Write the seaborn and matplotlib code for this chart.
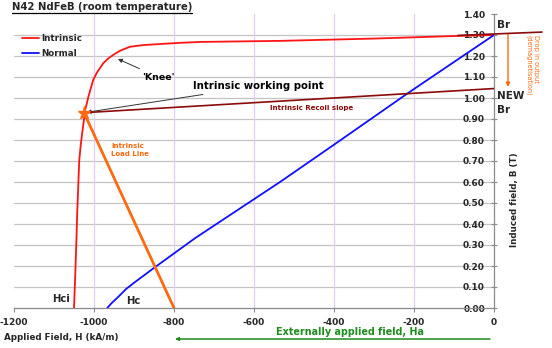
import matplotlib
matplotlib.use("Agg")
import matplotlib.pyplot as plt
from matplotlib.lines import Line2D
import seaborn as sns
import numpy as np

# ---------------- data ----------------
intrinsic_H = [-1050, -1047, -1044, -1042, -1037, -1033, -1027, -1022, -1014, -1002,
               -993, -977, -964, -952, -935, -910, -877, -835, -792, -735,
               -535, -300, -100, 0]
intrinsic_B = [0.00, 0.15, 0.32, 0.45, 0.70, 0.78, 0.87, 0.943, 1.006, 1.086,
               1.12, 1.165, 1.189, 1.205, 1.225, 1.244, 1.252, 1.257, 1.262, 1.267,
               1.272, 1.283, 1.295, 1.30]
normal_H = [-967, -955, -942, -920, -900, -847, -747, -535, -402, -210, 0]
normal_B = [0.00, 0.025, 0.048, 0.09, 0.12, 0.195, 0.333, 0.60, 0.775, 1.03, 1.30]
working_point = (-1025, 0.93)
load_line_end = (-800, 0.00)
recoil_end = (0, 1.045)
br_line_H = [-90, 120]
br_line_B = [1.298, 1.314]
x_ticks = [-1200, -1000, -800, -600, -400, -200, 0]
y_ticks = [0.0, 0.1, 0.2, 0.3, 0.4, 0.5, 0.6, 0.7, 0.8, 0.9, 1.0, 1.1, 1.2, 1.3, 1.4]

RED = "#ff1414"
BLUE = "#1010ff"
ORANGE = "#ff6a10"
BROWN = "#8b0a0a"
GREEN = "#1e8c1e"

sns.set_theme(style="white")
plt.rcParams['font.family'] = ['DejaVu Sans']
plt.rcParams['font.weight'] = 'bold'

W, H = 552, 348
fig = plt.figure(figsize=(W / 100, H / 100), dpi=100)
fig.patch.set_facecolor("white")
ax = fig.add_axes([14 / W, 40 / H, 480 / W, 294 / H])
ax.set_facecolor("white")
ax.set_xlim(-1200, 0)
ax.set_ylim(0, 1.40)


def px(xp, yp):
    return ((xp - 14) / 0.4 - 1200, (308 - yp) / 210)


# grid
for yv in y_ticks[1:-1]:
    ax.axhline(yv, color="#c4c4c4", lw=0.9, zorder=0)
for xv in x_ticks[1:-1]:
    ax.axvline(xv, color="#e2cdf7", lw=0.9, zorder=0)

# curves
sns.lineplot(x=intrinsic_H, y=intrinsic_B, sort=False, estimator=None, color=RED,
             lw=1.3, ax=ax, label="Intrinsic", zorder=3)
sns.lineplot(x=normal_H, y=normal_B, sort=False, estimator=None, color=BLUE,
             lw=1.3, ax=ax, label="Normal", zorder=3)
sns.lineplot(x=[working_point[0], load_line_end[0]], y=[working_point[1], load_line_end[1]],
             sort=False, estimator=None, color=ORANGE, lw=2.0, ax=ax, legend=False, zorder=4)
sns.lineplot(x=[working_point[0], recoil_end[0]], y=[working_point[1], recoil_end[1]],
             sort=False, estimator=None, color=BROWN, lw=1.2, ax=ax, legend=False, zorder=4)
sns.lineplot(x=br_line_H, y=br_line_B, sort=False, estimator=None, color=BROWN,
             lw=1.2, ax=ax, legend=False, zorder=4)
ax.lines[-1].set_clip_on(False)
ax.plot([working_point[0]], [working_point[1]], marker="*", ms=9.5, color=ORANGE,
        mec=ORANGE, zorder=5, clip_on=False)

# axes styling
for s in ["top", "right"]:
    ax.spines[s].set_visible(False)
ax.spines["left"].set_position(("data", 0))
ax.spines["left"].set_color("#8a8a8a")
ax.spines["bottom"].set_color("#8a8a8a")
ax.spines["left"].set_linewidth(0.9)
ax.spines["bottom"].set_linewidth(0.9)
ax.set_xticks(x_ticks)
ax.set_xticklabels([str(v) for v in x_ticks])
ax.set_yticks(y_ticks)
ax.set_yticklabels([f"{v:.2f}" for v in y_ticks])
ax.tick_params(axis="x", direction="out", length=3, width=0.8, color="#8a8a8a",
               pad=4, labelsize=6.5, bottom=True)
ax.tick_params(axis="y", direction="inout", length=5, width=0.8, color="#8a8a8a",
               pad=4, labelsize=6.5, left=True)
for t in ax.get_xticklabels() + ax.get_yticklabels():
    t.set_fontweight("bold")

# legend
leg = ax.legend(loc="upper left", bbox_to_anchor=(22 / W, 1 - 34 / H),
                bbox_transform=fig.transFigure, frameon=False, fontsize=6.3,
                handlelength=1.9, handletextpad=0.3, labelspacing=0.65,
                borderpad=0, borderaxespad=0)
for t in leg.get_texts():
    t.set_fontweight("bold")

# annotations
ax.annotate("'Knee'", xy=px(118, 59), xytext=px(158, 77), ha="center", va="center",
            fontsize=6.8, fontweight="bold", color="black",
            arrowprops=dict(arrowstyle="-|>", color="#333333", lw=0.7,
                            mutation_scale=6, shrinkA=1, shrinkB=0))
ax.annotate("Intrinsic working point", xy=working_point, xytext=px(193, 86),
            ha="left", va="center", fontsize=7.3, fontweight="bold", color="black",
            arrowprops=dict(arrowstyle="-|>", color="#333333", lw=0.7,
                            mutation_scale=6, shrinkA=1, shrinkB=2))
ax.text(*px(312, 108), "Intrinsic Recoil slope", ha="center", va="center",
        fontsize=5.0, fontweight="bold", color=BROWN)
ax.text(*px(111, 150), "Intrinsic\nLoad Line", ha="left", va="center",
        fontsize=5.0, fontweight="bold", color=ORANGE, linespacing=1.5)
ax.text(*px(52, 299), "Hci", ha="left", va="center", fontsize=7.3, fontweight="bold")
ax.text(*px(126, 301), "Hc", ha="left", va="center", fontsize=7.3, fontweight="bold")
ax.text(*px(497, 25), "Br", ha="left", va="center", fontsize=7.5, fontweight="bold",
        clip_on=False)
ax.text(*px(497, 96), "NEW", ha="left", va="center", fontsize=7.5, fontweight="bold",
        clip_on=False)
ax.text(*px(497, 110), "Br", ha="left", va="center", fontsize=7.5, fontweight="bold",
        clip_on=False)
ax.annotate("", xy=px(508, 87), xytext=px(508, 34),
            arrowprops=dict(arrowstyle="-|>", color=ORANGE, lw=1.0,
                            mutation_scale=6, shrinkA=0, shrinkB=0),
            annotation_clip=False)
ax.text(*px(532, 35), "Drop in output\n(demagnetisation)", rotation=270,
        ha="center", va="top", multialignment="left", fontsize=4.7,
        fontweight="normal", color=ORANGE, clip_on=False)

# axis labels
fig.text(515 / W, 1 - 200 / H, "Induced field, B (T)", rotation=90, ha="center",
         va="center", fontsize=6.3, fontweight="bold")
fig.text(4 / W, 1 - 337 / H, "Applied Field, H (kA/m)", ha="left", va="center",
         fontsize=6.3, fontweight="bold")
fig.text(350 / W, 1 - 332 / H, "Externally applied field, Ha", ha="center", va="center",
         fontsize=6.9, fontweight="bold", color=GREEN)
ax.annotate("", xy=(175 / W, 1 - 339 / H), xytext=(490 / W, 1 - 339 / H),
            xycoords="figure fraction", textcoords="figure fraction",
            arrowprops=dict(arrowstyle="-|>", color=GREEN, lw=1.1,
                            mutation_scale=5, shrinkA=0, shrinkB=0))

# title with underline
title = fig.text(12 / W, 1 - 7 / H, "N42 NdFeB (room temperature)", ha="left",
                 va="center", fontsize=7.3, fontweight="bold")
fig.canvas.draw()
bb = title.get_window_extent(renderer=fig.canvas.get_renderer())
bbf = bb.transformed(fig.transFigure.inverted())
fig.add_artist(Line2D([bbf.x0, bbf.x1], [bbf.y0 - 0.5 / H, bbf.y0 - 0.5 / H],
                      transform=fig.transFigure, color="black", lw=0.9))

fig.savefig("out.png", dpi=100, facecolor="white")
